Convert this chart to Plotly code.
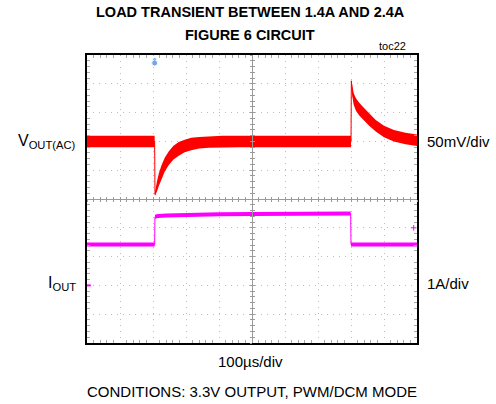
import plotly.graph_objects as go

# ---- waveform data (time in microseconds) ----
# Output voltage, AC coupled: trace centre and half-width of the noise band, mV
t_vout = [0, 204, 205, 206, 208, 212, 218, 226, 236, 248, 262, 278, 296, 316, 340,
          370, 410, 460, 600, 799, 800, 801, 803, 808, 815, 825, 838, 855, 875, 900,
          930, 965, 1000]
vout_mv = [0, 0, 0, -92, -87, -78, -66, -53, -40, -29, -19.5, -13, -8, -4.5, -2.3,
           -1, 0, 0, 0, 0, 0, 105, 90, 74, 64, 56, 48, 38, 27, 17, 10, 5, 2]
vout_band_mv = [10, 10, 10, 3, 6, 9, 11, 12, 12, 12, 12, 12, 11, 11, 10,
                10, 10, 10, 10, 10, 10, 3, 8, 10, 11, 11, 11, 11, 10, 10, 10, 10, 10]

# Load current: trace centre and half-width, A
t_iout = [0, 205, 206, 215, 240, 300, 400, 500, 600, 700, 799, 800, 1000]
iout_a = [1.42, 1.42, 2.38, 2.41, 2.43, 2.45, 2.47, 2.48, 2.49, 2.50, 2.50, 1.42, 1.42]
iout_band_a = [0.07] * len(t_iout)

# scope markers
trigger_time_us = 205
trigger_level_a = 2.0
iout_ground_a = 0.0

# vertical scales / offsets (in divisions from screen centre)
VOUT_MV_PER_DIV = 50
VOUT_OFFSET_DIV = 2
IOUT_A_PER_DIV = 1
IOUT_OFFSET_DIV = -3
N_DIV = 10

RED = "#ff0000"
MAGENTA = "#ff00ff"
GRID = "#bdbdbd"
CENTER = "#9a9a9a"
FONT = "Liberation Sans, Arial, sans-serif"

fig = go.Figure()


def add_band(t, mid, half, color, yaxis):
    upper = [m + h for m, h in zip(mid, half)]
    lower = [m - h for m, h in zip(mid, half)]
    fig.add_trace(go.Scatter(x=t, y=upper, mode="lines", line=dict(width=0, color=color),
                             yaxis=yaxis, hoverinfo="skip", showlegend=False))
    fig.add_trace(go.Scatter(x=t, y=lower, mode="lines", line=dict(width=0, color=color),
                             fill="tonexty", fillcolor=color, yaxis=yaxis,
                             hoverinfo="skip", showlegend=False))
    fig.add_trace(go.Scatter(x=t, y=mid, mode="lines", line=dict(width=1, color=color),
                             yaxis=yaxis, hoverinfo="skip", showlegend=False))


add_band(t_vout, vout_mv, vout_band_mv, RED, "y")
add_band(t_iout, iout_a, iout_band_a, MAGENTA, "y2")

# trigger position marker (top edge)
vout_top = (N_DIV / 2 - VOUT_OFFSET_DIV) * VOUT_MV_PER_DIV
fig.add_trace(go.Scatter(x=[trigger_time_us, trigger_time_us],
                         y=[vout_top - 8, vout_top - 14], mode="markers",
                         marker=dict(symbol="circle", size=[4, 6], color="#3b82e6"),
                         cliponaxis=False, hoverinfo="skip", showlegend=False))
# current channel ground marker and trigger level marker
fig.add_trace(go.Scatter(x=[3], y=[iout_ground_a], mode="markers", yaxis="y2",
                         marker=dict(symbol="line-ew", size=4, line=dict(width=2, color=MAGENTA)),
                         cliponaxis=False, hoverinfo="skip", showlegend=False))
fig.add_trace(go.Scatter(x=[990], y=[trigger_level_a], mode="markers", yaxis="y2",
                         marker=dict(symbol="cross-thin", size=4, line=dict(width=1, color=MAGENTA)),
                         cliponaxis=False, hoverinfo="skip", showlegend=False))

# empty traces so the graticule centre-line axes are created
for xa, ya in [("x2", "y"), ("x3", "y"), ("x", "y3"), ("x", "y4")]:
    fig.add_trace(go.Scatter(x=[], y=[], xaxis=xa, yaxis=ya, showlegend=False,
                             hoverinfo="skip"))

t_range = [0, 1000]
vout_range = [(-N_DIV / 2 - VOUT_OFFSET_DIV) * VOUT_MV_PER_DIV,
              (N_DIV / 2 - VOUT_OFFSET_DIV) * VOUT_MV_PER_DIV]
iout_range = [(-N_DIV / 2 - IOUT_OFFSET_DIV) * IOUT_A_PER_DIV,
              (N_DIV / 2 - IOUT_OFFSET_DIV) * IOUT_A_PER_DIV]

frame = dict(showline=True, linecolor="black", linewidth=2, mirror="ticks",
             showticklabels=False, zeroline=False, ticks="",
             showgrid=True, gridcolor=GRID, gridwidth=1, griddash="1px,5px")

center_axis = dict(showline=True, linecolor=CENTER, linewidth=1, showgrid=False,
                   zeroline=False, showticklabels=False, ticklen=2, tickcolor=CENTER,
                   tickwidth=1, anchor="free", position=0.5)

fig.update_layout(
    width=496, height=404,
    margin=dict(l=87, r=79, t=55, b=61),
    paper_bgcolor="white", plot_bgcolor="white",
    showlegend=False,
    xaxis=dict(range=t_range, dtick=100, **frame,
               minor=dict(ticks="inside", dtick=20, ticklen=3, tickcolor="#a8a8a8")),
    yaxis=dict(range=vout_range, dtick=VOUT_MV_PER_DIV, tick0=0, **frame,
               minor=dict(ticks="inside", dtick=VOUT_MV_PER_DIV / 5, ticklen=3,
                          tickcolor="#a8a8a8")),
    yaxis2=dict(range=iout_range, overlaying="y", showgrid=False, zeroline=False,
                showticklabels=False, showline=False, ticks=""),
    xaxis2=dict(range=t_range, overlaying="x", dtick=20, ticks="outside", **center_axis),
    xaxis3=dict(range=t_range, overlaying="x", dtick=20, ticks="inside", **center_axis),
    yaxis3=dict(range=vout_range, overlaying="y", dtick=VOUT_MV_PER_DIV / 5,
                ticks="outside", **center_axis),
    yaxis4=dict(range=vout_range, overlaying="y", dtick=VOUT_MV_PER_DIV / 5,
                ticks="inside", **center_axis),
    font=dict(family=FONT, color="black"),
)

ann = [
    dict(text="<b>LOAD TRANSIENT BETWEEN 1.4A AND 2.4A</b>", x=0.494, y=1.149, size=14.5),
    dict(text="<b>FIGURE 6 CIRCUIT</b>", x=0.494, y=1.071, size=14.5),
    dict(text="toc22", x=0.973, y=1.031, size=11, xanchor="right"),
    dict(text="V<sub>OUT(AC)</sub>", x=-0.027, y=0.70, size=16, xanchor="right"),
    dict(text="I<sub>OUT</sub>", x=-0.027, y=0.205, size=16, xanchor="right"),
    dict(text="50mV/div", x=1.024, y=0.698, size=15, xanchor="left"),
    dict(text="1A/div", x=1.024, y=0.207, size=15, xanchor="left"),
    dict(text="100µs/div", x=0.494, y=-0.0625, size=15),
    dict(text="CONDITIONS: 3.3V OUTPUT, PWM/DCM MODE", x=0.5, y=-0.170, size=15),
]
for a in ann:
    fig.add_annotation(text=a["text"], x=a["x"], y=a["y"], xref="paper", yref="paper",
                       xanchor=a.get("xanchor", "center"), yanchor="middle",
                       showarrow=False, font=dict(family=FONT, size=a["size"], color="black"))

fig.write_html("out.html")
